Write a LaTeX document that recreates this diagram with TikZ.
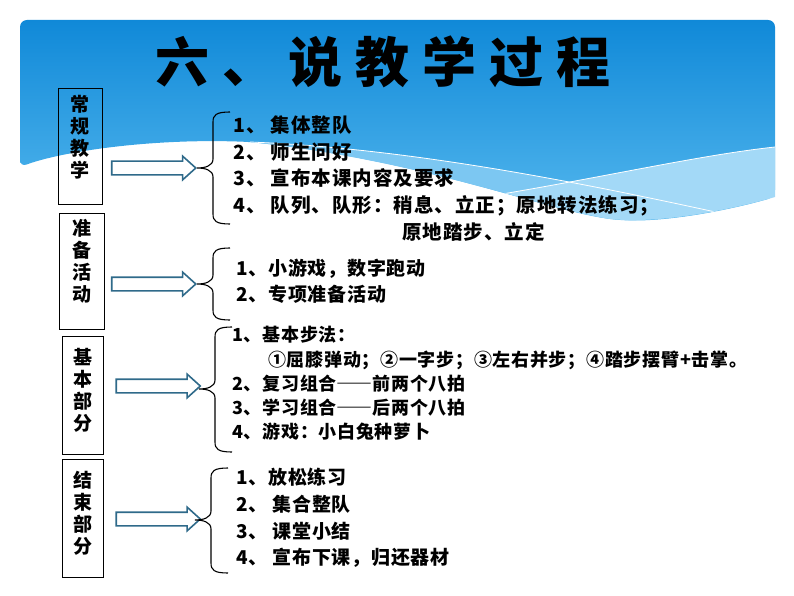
\documentclass[tikz,border=0pt]{standalone}
\usepackage{fontspec}
\newfontfamily\cjk{Noto Sans CJK SC}
\newfontfamily\titlecjk{Noto Sans CJK SC}[LetterSpace=24]
\usetikzlibrary{shapes.arrows,positioning}
\definecolor{banddark}{HTML}{1089D8}
\definecolor{bandlight}{HTML}{55B8EE}
\definecolor{wavemid}{HTML}{7CC7F2}
\definecolor{wavepale}{HTML}{A3D9F7}
\definecolor{arrowedge}{HTML}{2F6A8A}
% left curly brace: x of ends, top, tip, bottom
\newcommand{\drawbrc}[4]{%
  \draw[brc] (#1,#2) .. controls ({#1-14},#2) and ({#1-17},{#2+3}) .. ({#1-17},{#2+10})
    -- ({#1-17},{#3-9}) .. controls ({#1-17},{#3-2}) and ({#1-25},#3) .. ({#1-33},#3)
    .. controls ({#1-25},#3) and ({#1-17},{#3+2}) .. ({#1-17},{#3+9})
    -- ({#1-17},{#4-10}) .. controls ({#1-17},{#4-3}) and ({#1-14},#4) .. (#1,#4);}
\newcommand{\fwdash}{{\addfontfeature{RawFeature=+fwid}——}}
\begin{document}
\begin{tikzpicture}[x=1pt,y=-1pt]
  \useasboundingbox (0,0) rectangle (794,596);
  \begin{scope}
    \tikzstyle{catbox} = [draw=black, line width=0.9pt, minimum width=44pt, inner sep=0pt]
    \tikzstyle{cattext} = [font=\cjk\bfseries\fontsize{19}{22}\selectfont, align=center, inner sep=0pt]
    \tikzstyle{bigarrow} = [single arrow, draw=arrowedge, fill=white, line width=1.6pt,
      minimum height=84pt, inner xsep=0pt, inner ysep=6pt, single arrow head extend=5pt,
      single arrow tip angle=84]
    \tikzstyle{listtext} = [anchor=west, align=left, inner sep=0pt]
    \tikzstyle{brc} = [black, line width=1.1pt]

    % header band
    \shade[top color=banddark, bottom color=bandlight, rounded corners=7pt]
      (20,167) -- (20,20) -- (775,20) -- (775,197)
      .. controls (730,210) and (660,224) .. (610,219)
      .. controls (540,208) and (420,160) .. (250,142)
      .. controls (150,138) and (60,152) .. (20,167) -- cycle;
    \begin{scope}
      \clip (20,167) -- (20,20) -- (775,20) -- (775,197)
        .. controls (730,210) and (660,224) .. (610,219)
        .. controls (540,208) and (420,160) .. (250,142)
        .. controls (150,138) and (60,152) .. (20,167) -- cycle;
      \fill[wavemid] (250,142) .. controls (400,148) and (560,178) .. (720,213)
        -- (720,300) -- (250,300) -- cycle;
      \fill[wavepale] (490,196) .. controls (600,178) and (700,155) .. (775,147)
        -- (800,147) -- (800,300) -- (490,300) -- cycle;
      \draw[white, line width=0.8pt] (250,142) .. controls (400,148) and (560,178) .. (720,213);
      \draw[white, line width=0.8pt] (490,196) .. controls (600,178) and (700,155) .. (775,147);
    \end{scope}

    \node[font=\titlecjk\bfseries\fontsize{54}{54}\selectfont, inner sep=0pt] (title) at (383,62) {六、说教学过程};

    \node[catbox, minimum height=116pt] (b1) at (80,146) {};
    \node[cattext] (c1) at (80,137) {常\\规\\教\\学};
    \node[catbox, minimum width=45pt, minimum height=116pt] (b2) at (81.5,271) {};
    \node[cattext] (c2) at (81.5,261) {准\\备\\活\\动};
    \node[catbox, minimum width=41pt, minimum height=118pt] (b3) at (82.5,395) {};
    \node[cattext] (c3) at (82.5,390) {基\\本\\部\\分};
    \node[catbox, minimum width=41pt, minimum height=118pt] (b4) at (82.5,518) {};
    \node[cattext] (c4) at (82.5,513) {结\\束\\部\\分};

    \node[bigarrow] (a1) at (150,168) {};
    \node[bigarrow] (a2) at (150,284) {};
    \node[bigarrow] (a3) at (154.5,386) {};
    \node[bigarrow] (a4) at (154.5,519) {};

    \drawbrc{230}{112}{168}{224}
    \drawbrc{230}{248}{284}{320}
    \drawbrc{232}{327}{389}{452}
    \drawbrc{228}{468}{520}{573}

    \node[listtext, font=\cjk\bfseries\fontsize{19.5}{26.75}\selectfont\addfontfeature{LetterSpace=5}] (l1) at (233,178.5)
      {1、 集体整队\\2、 师生问好\\3、 宣布本课内容及要求\\4、 队列、队形：稍息、立正；原地转法练习；\\\hspace*{169pt}原地踏步、立定};
    \node[listtext, font=\cjk\bfseries\fontsize{19}{26}\selectfont\addfontfeature{LetterSpace=4}] (l2) at (236,281)
      {1、小游戏，数字跑动\\2、专项准备活动};
    \node[listtext, font=\cjk\bfseries\fontsize{18}{24.25}\selectfont\addfontfeature{LetterSpace=4}] (l3) at (232,383.5)
      {1、基本步法：\\\hspace*{36pt}①屈膝弹动；②一字步；③左右并步；④踏步摆臂+击掌。\\2、复习组合\fwdash 前两个八拍\\3、学习组合\fwdash 后两个八拍\\4、游戏：小白兔种萝卜};
    \node[listtext, font=\cjk\bfseries\fontsize{19}{26.7}\selectfont\addfontfeature{LetterSpace=4}] (l4) at (236,518)
      {1、放松练习\\2、 集合整队\\3、 课堂小结\\4、 宣布下课，归还器材};
  \end{scope}
\end{tikzpicture}
\end{document}
